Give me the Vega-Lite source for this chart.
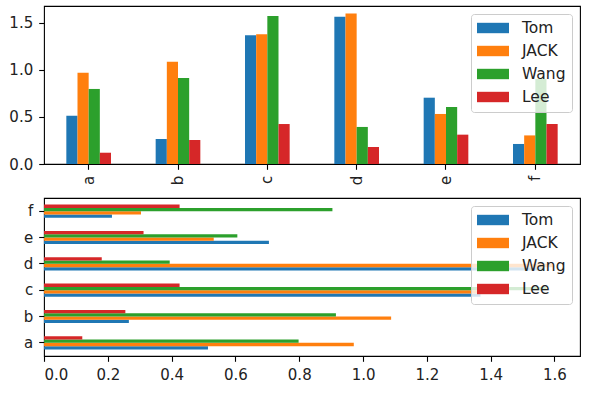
{
  "$schema": "https://vega.github.io/schema/vega-lite/v6.json",
  "padding": {"left": 8, "top": 5, "right": 5, "bottom": 5},
  "background": "white",
  "datasets": {
    "scores": [
      {"cat": "a", "name": "Tom", "value": 0.514},
      {"cat": "a", "name": "JACK", "value": 0.971},
      {"cat": "a", "name": "Wang", "value": 0.798},
      {"cat": "a", "name": "Lee", "value": 0.12},
      {"cat": "b", "name": "Tom", "value": 0.266},
      {"cat": "b", "name": "JACK", "value": 1.088},
      {"cat": "b", "name": "Wang", "value": 0.915},
      {"cat": "b", "name": "Lee", "value": 0.255},
      {"cat": "c", "name": "Tom", "value": 1.368},
      {"cat": "c", "name": "JACK", "value": 1.379},
      {"cat": "c", "name": "Wang", "value": 1.574},
      {"cat": "c", "name": "Lee", "value": 0.425},
      {"cat": "d", "name": "Tom", "value": 1.567},
      {"cat": "d", "name": "JACK", "value": 1.599},
      {"cat": "d", "name": "Wang", "value": 0.394},
      {"cat": "d", "name": "Lee", "value": 0.181},
      {"cat": "e", "name": "Tom", "value": 0.705},
      {"cat": "e", "name": "JACK", "value": 0.532},
      {"cat": "e", "name": "Wang", "value": 0.606},
      {"cat": "e", "name": "Lee", "value": 0.312},
      {"cat": "f", "name": "Tom", "value": 0.213},
      {"cat": "f", "name": "JACK", "value": 0.304},
      {"cat": "f", "name": "Wang", "value": 0.904},
      {"cat": "f", "name": "Lee", "value": 0.425}
    ]
  },
  "config": {
    "font": "DejaVu Sans",
    "view": {"stroke": "black", "strokeWidth": 1.1},
    "axis": {
      "domain": false,
      "grid": false,
      "tickColor": "black",
      "tickSize": 5.3,
      "tickWidth": 1.1,
      "labelPadding": 6,
      "labelFont": "DejaVu Sans",
      "labelFontSize": 15,
      "labelColor": "#222222",
      "title": null
    },
    "legend": {
      "orient": "top-right",
      "offset": 8,
      "title": null,
      "labelFont": "DejaVu Sans",
      "labelFontSize": 15.5,
      "labelColor": "#222222",
      "fillColor": "rgba(255,255,255,0.8)",
      "strokeColor": "#cccccc",
      "strokeWidth": 1,
      "cornerRadius": 3,
      "padding": 6,
      "symbolType": "M-1,-0.65H3V0.65H-1Z",
      "symbolSize": 256,
      "symbolStrokeWidth": 0,
      "symbolOpacity": 1,
      "labelOffset": 29,
      "rowPadding": 6
    }
  },
  "spacing": 11,
  "resolve": {"scale": {"color": "independent"}, "legend": {"color": "independent"}},
  "vconcat": [
    {
      "width": 536,
      "height": 158,
      "data": {"name": "scores"},
      "mark": {"type": "bar"},
      "encoding": {
        "x": {
          "field": "cat",
          "type": "nominal",
          "scale": {"paddingInner": 0.5, "paddingOuter": 0.25},
          "axis": {"labelAngle": -90, "labelAlign": "right", "labelBaseline": "middle"}
        },
        "xOffset": {
          "field": "name",
          "type": "nominal",
          "sort": ["Tom", "JACK", "Wang", "Lee"],
          "scale": {"paddingInner": 0, "paddingOuter": 0}
        },
        "y": {
          "field": "value",
          "type": "quantitative",
          "scale": {"domain": [0, 1.68], "nice": false},
          "axis": {"values": [0, 0.5, 1.0, 1.5], "format": ".1f"}
        },
        "color": {
          "field": "name",
          "type": "nominal",
          "sort": ["Tom", "JACK", "Wang", "Lee"],
          "scale": {"domain": ["Tom", "JACK", "Wang", "Lee"], "range": ["#1f77b4", "#ff7f0e", "#2ca02c", "#d62728"]}
        }
      }
    },
    {
      "width": 536,
      "height": 158,
      "data": {"name": "scores"},
      "mark": {"type": "bar"},
      "encoding": {
        "y": {
          "field": "cat",
          "type": "nominal",
          "sort": "descending",
          "scale": {"paddingInner": 0.5, "paddingOuter": 0.25}
        },
        "yOffset": {
          "field": "name",
          "type": "nominal",
          "sort": ["Lee", "Wang", "JACK", "Tom"],
          "scale": {"paddingInner": 0, "paddingOuter": 0}
        },
        "x": {
          "field": "value",
          "type": "quantitative",
          "scale": {"domain": [0, 1.68], "nice": false},
          "axis": {"values": [0, 0.2, 0.4, 0.6, 0.8, 1.0, 1.2, 1.4, 1.6], "format": ".1f"}
        },
        "color": {
          "field": "name",
          "type": "nominal",
          "sort": ["Tom", "JACK", "Wang", "Lee"],
          "scale": {"domain": ["Tom", "JACK", "Wang", "Lee"], "range": ["#1f77b4", "#ff7f0e", "#2ca02c", "#d62728"]}
        }
      }
    }
  ]
}
